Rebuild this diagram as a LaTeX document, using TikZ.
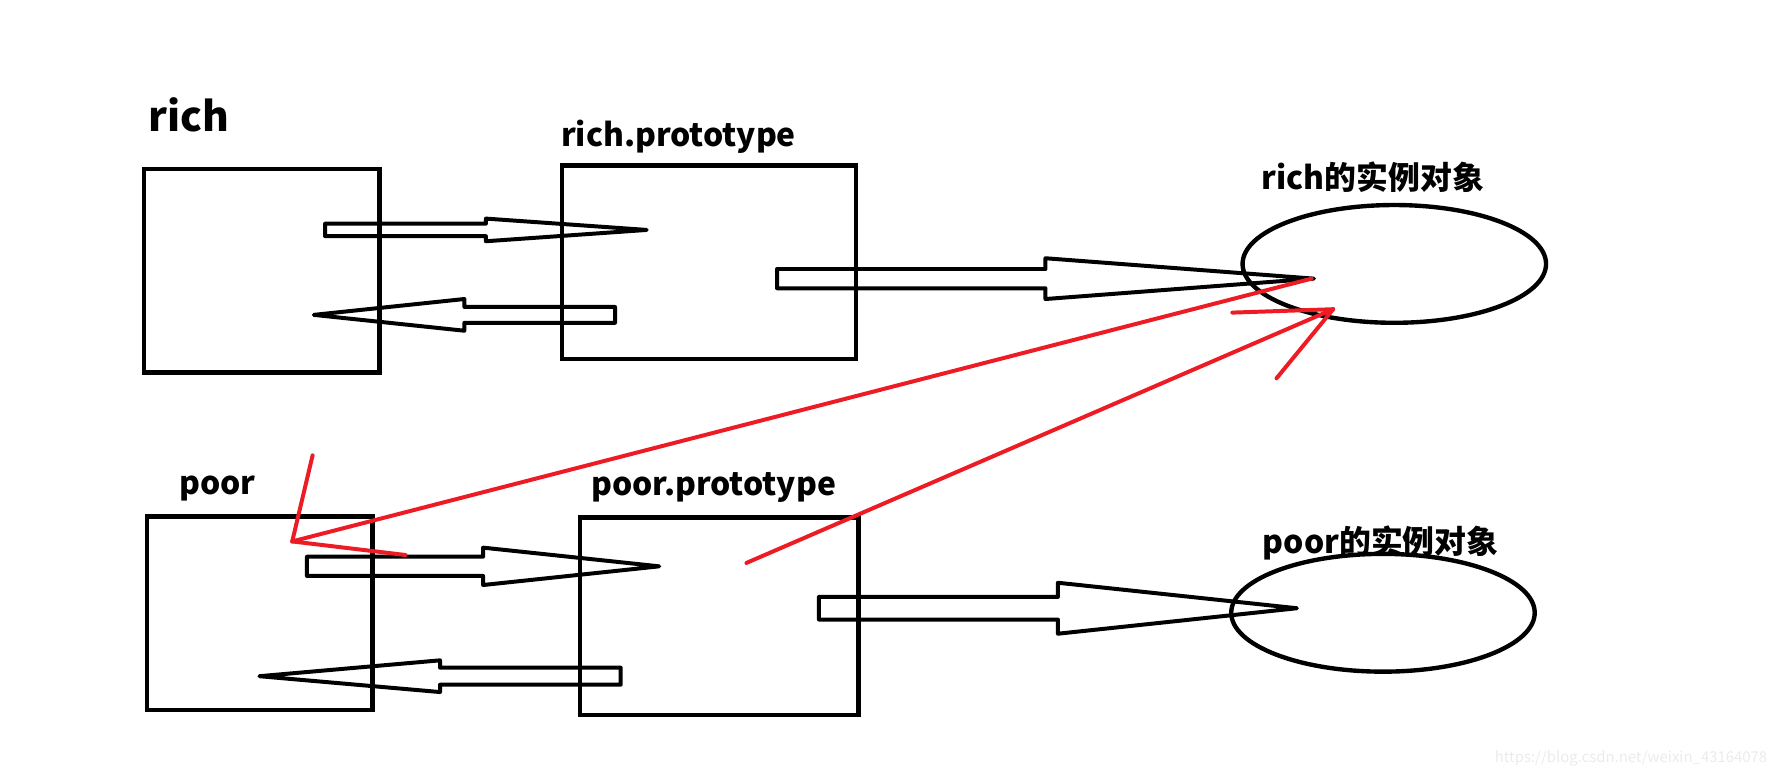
\documentclass[tikz,border=0pt]{standalone}
\usepackage{fontspec}
\setmainfont{Noto Sans CJK SC}
\usetikzlibrary{shapes.geometric,calc}
\definecolor{penred}{RGB}{237,28,36}
% hollow block arrow from #1 to #2, half shaft #3, half head #4
\newcommand{\hollowarrow}[4]{%
  \draw[hollow] ($(#1)+(0,#3)$) -- ($(#1)!0.5!(#2)+(0,#3)$) -- ($(#1)!0.5!(#2)+(0,#4)$) -- (#2)
    -- ($(#1)!0.5!(#2)-(0,#4)$) -- ($(#1)!0.5!(#2)-(0,#3)$) -- ($(#1)-(0,#3)$) -- cycle;}
\begin{document}
\begin{tikzpicture}[x=0.02cm, y=-0.02cm,
  box/.style={shape=rectangle, draw=black, line width=2.2pt},
  obj/.style={shape=ellipse, draw=black, line width=2.2pt, minimum width=5.36cm, minimum height=2.08cm},
  lbl/.style={font=\fontsize{16}{18}\selectfont\bfseries, inner sep=0pt},
  hollow/.style={draw=black, line width=2pt, line join=round},
  redline/.style={draw=penred, line width=2pt, line cap=round}]
\useasboundingbox (0,0) rectangle (1568,686);
% labels
\node[lbl, font=\fontsize{20.5}{22}\selectfont\bfseries] (richLbl) at (167,101) {rich};
\node[lbl] (richProtoLbl) at (599,121) {rich.prototype};
\node[lbl] (richObjLbl) at (1212,156) {rich的实例对象};
\node[lbl] (poorLbl) at (192,431) {poor};
\node[lbl] (poorProtoLbl) at (630,430) {poor.prototype};
\node[lbl] (poorObjLbl) at (1219,479) {poor的实例对象};
\node[font=\fontsize{7.5}{8}\selectfont, text=black!8, inner sep=0pt] (mark) at (1440,670) {https://blog.csdn.net/weixin\_43164078};
% boxes and objects
\node[box, minimum width=4.16cm, minimum height=3.6cm] (rich) at (231,239) {};
\node[box, minimum width=5.2cm, minimum height=3.42cm] (richProto) at (626,231.5) {};
\node[obj] (richObj) at (1231,233) {};
\node[box, minimum width=3.98cm, minimum height=3.42cm] (poor) at (229.5,541.5) {};
\node[box, minimum width=4.92cm, minimum height=3.48cm] (poorProto) at (635,544) {};
\node[obj] (poorObj) at (1221,541) {};
% arrow ends
\coordinate (r2pS) at (287,203); \coordinate (r2pE) at (571,203);
\coordinate (p2rS) at (543,278); \coordinate (p2rE) at (277,278);
\coordinate (rp2oS) at (686,246); \coordinate (rp2oE) at (1160,246);
\coordinate (q2pS) at (271,500); \coordinate (q2pE) at (582,500);
\coordinate (p2qS) at (548,597); \coordinate (p2qE) at (229,597);
\coordinate (qp2oS) at (723,537); \coordinate (qp2oE) at (1145,537);
\hollowarrow{r2pS}{r2pE}{5.5}{10}
\hollowarrow{p2rS}{p2rE}{7}{14}
\hollowarrow{rp2oS}{rp2oE}{8.5}{18}
\hollowarrow{q2pS}{q2pE}{8.5}{16.5}
\hollowarrow{p2qS}{p2qE}{7.5}{14}
\hollowarrow{qp2oS}{qp2oE}{10}{22.5}
% red pointers
\coordinate (ro1) at (1158,246); \coordinate (qin) at (258,478);
\coordinate (qinA) at (276,402); \coordinate (qinB) at (358,490);
\coordinate (qp1) at (659,497); \coordinate (roin) at (1177,273);
\coordinate (roinA) at (1088,276); \coordinate (roinB) at (1127,334);
\path[redline] (ro1) edge (qin);
\path[redline] (qin) edge (qinA);
\path[redline] (qin) edge (qinB);
\path[redline] (qp1) edge (roin);
\path[redline] (roin) edge (roinA);
\path[redline] (roin) edge (roinB);
\end{tikzpicture}
\end{document}
